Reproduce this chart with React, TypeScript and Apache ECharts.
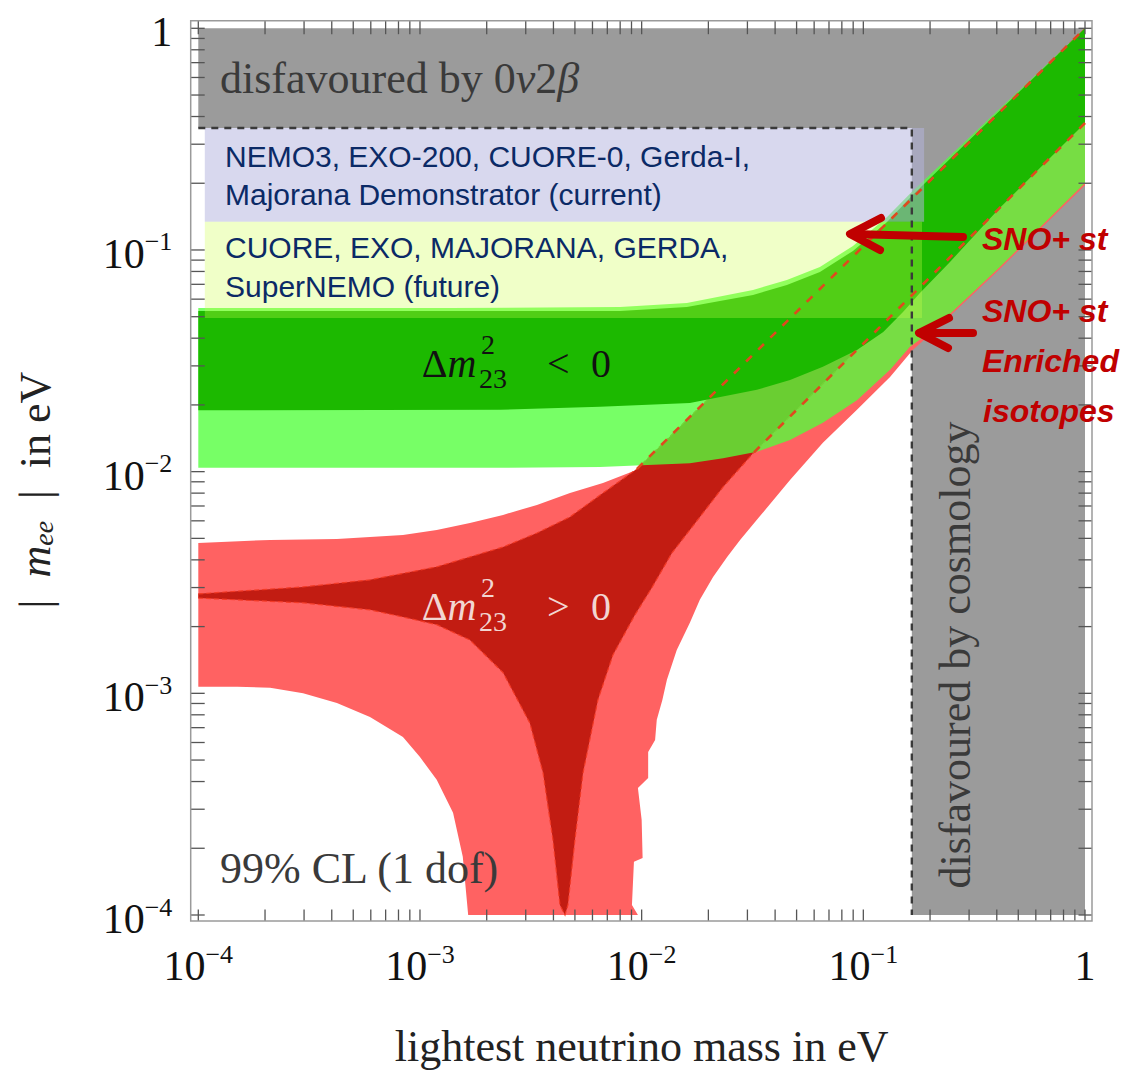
import React, { useEffect, useRef } from "react";
import * as echarts from "echarts";

// ---------------- data (all in eV) ----------------
const xRange = [1e-4, 1];
const yRange = [1e-4, 1];

const decadeStarts = [1e-4, 1e-3, 1e-2, 1e-1];
const tickMultipliers = [1, 2, 3, 4, 5, 6, 7, 8, 9];
const tickValues = [...decadeStarts.flatMap((d) => tickMultipliers.map((k) => k * d)), 1];

const doubleBetaLimit = 0.355; // |m_ee| bound (dashed horizontal)
const cosmologyLimit = 0.1655; // lightest mass bound (dashed vertical)

const currentExpX = [1.07e-4, 0.188];
const currentExpY = [0.134, 0.355];
const futureExpX = [1.07e-4, 0.184];
const futureExpY = [0.0493, 0.134];

// normal hierarchy, 99% CL band
const lightRedNH = [
  [1e-4, 0.00477], [2.11e-4, 0.00492], [4.22e-4, 0.00497], [8.38e-4, 0.00518], [1.19e-3, 0.00546],
  [1.68e-3, 0.00587], [2.37e-3, 0.00638], [3.37e-3, 0.00708], [4.75e-3, 0.00801], [6.69e-3, 0.00889],
  [9.53e-3, 0.0102], [1, 1],
  [1, 0.196], [0.413, 0.0821], [0.206, 0.0427], [0.167, 0.0354], [0.132, 0.0267], [0.0936, 0.019],
  [0.0657, 0.0135], [0.0467, 0.00917], [0.0331, 0.00606], [0.0278, 0.00492], [0.0243, 0.00412],
  [0.021, 0.00335], [0.0183, 0.00264], [0.0165, 0.00208], [0.0144, 0.00157], [0.013, 0.00115],
  [0.0124, 0.000934], [0.0117, 0.000759], [0.0115, 0.000616], [0.0107, 0.000544], [0.0107, 0.000415],
  [0.00962, 0.000374], [0.01, 0.000269], [0.0101, 0.000181], [0.00923, 0.000174], [0.00904, 0.000111],
  [0.00962, 1e-4],
  [1.65e-3, 1e-4], [1.56e-3, 0.000183], [1.41e-3, 0.000289], [1.19e-3, 0.000407], [1e-3, 0.000516],
  [8.38e-4, 0.000636], [5.95e-4, 0.000782], [4.22e-4, 0.000905], [2.97e-4, 0.001], [2.11e-4, 0.00106],
  [1.5e-4, 0.00107], [1e-4, 0.00107],
];

// normal hierarchy, best-fit band
const darkRedNH = [
  [1e-4, 0.00281], [2.97e-4, 0.00302], [5.95e-4, 0.00325], [1.19e-3, 0.00372], [2.37e-3, 0.00457],
  [3.37e-3, 0.00529], [4.75e-3, 0.00625], [6.69e-3, 0.00801], [9.53e-3, 0.0103], [1, 1],
  [1, 0.374], [0.0318, 0.0121], [0.0233, 0.00853], [0.0165, 0.00546], [0.0137, 0.0043],
  [0.0111, 0.00299], [0.00933, 0.00226], [0.00742, 0.00149], [0.00635, 0.000934], [0.00544, 0.000438],
  [0.005, 0.000218], [0.00465, 0.000111], [0.00451, 1e-4],
  [0.00428, 0.000111], [0.00398, 0.000218], [0.00359, 0.000438], [0.00313, 0.000735], [0.00237, 0.00124],
  [0.00168, 0.00174], [0.00119, 0.00204], [8.38e-4, 0.00221], [5.95e-4, 0.00238], [2.97e-4, 0.00256],
  [1.5e-4, 0.00264], [1e-4, 0.00269],
];
const darkRedUpperEdge = darkRedNH.slice(0, 10);
const darkRedLowerEdge = darkRedNH.slice(10);
const nhUpperLine = darkRedNH.slice(8, 10); // quasi-degenerate upper bound, dashed over the green
const nhLowerLine = darkRedNH.slice(10, 12); // quasi-degenerate lower bound, dashed over the green

// inverted hierarchy, 99% CL band
const lightGreenIH = [
  [1e-4, 0.0547], [1.37e-3, 0.0547], [7.99e-3, 0.0553], [0.016, 0.0577], [0.0318, 0.066], [0.0452, 0.0732],
  [0.0637, 0.0838], [0.0898, 0.1043], [0.128, 0.141], [0.167, 0.1845], [1, 1],
  [1, 0.2005], [0.413, 0.0838], [0.206, 0.0436], [0.162, 0.0365], [0.132, 0.0288], [0.0936, 0.021],
  [0.0657, 0.0166], [0.0467, 0.0139], [0.0331, 0.0123], [0.0233, 0.0115], [0.0165, 0.0109],
  [0.00648, 0.0105], [0.0023, 0.0104], [1e-4, 0.0104],
];

// inverted hierarchy, best-fit band
const darkGreenIH = [
  [1e-4, 0.0531], [7.99e-3, 0.0531], [0.016, 0.0553], [0.0318, 0.0627], [0.0452, 0.0695], [0.0637, 0.0796],
  [0.0898, 0.099], [0.128, 0.1337], [0.167, 0.177], [1, 1],
  [1, 0.374], [0.413, 0.155], [0.246, 0.0883], [0.18, 0.064], [0.151, 0.0525], [0.123, 0.0427],
  [0.0936, 0.0354], [0.0657, 0.0297], [0.0467, 0.0259], [0.0331, 0.0234], [0.0165, 0.0204],
  [0.00648, 0.0196], [0.0023, 0.019], [1e-4, 0.0189],
];

// ---------------- styles / layout ----------------
const SERIF = '"Liberation Serif", "Times New Roman", serif';
const SANS = '"Liberation Sans", Arial, sans-serif';
const GRID_LEFT = 198.3;
const GRID_TOP = 28.3;
const GRID_W = 886.7;
const GRID_H = 886.7;
const PAD_L = 7.6;
const PAD_T = 7.6;
const PAD_R = 7;
const PAD_B = 6;
const TICK_STYLE = { stroke: "#555", lineWidth: 1.3 };

const rectPts = (xr: number[], yr: number[]) => [
  [xr[0], yr[0]], [xr[1], yr[0]], [xr[1], yr[1]], [xr[0], yr[1]],
];

function polygonSeries(name: string, pts: number[][], style: any) {
  return {
    name,
    type: "custom",
    coordinateSystem: "cartesian2d",
    silent: true,
    clip: false,
    data: pts,
    encode: { x: 0, y: 1 },
    renderItem: (params: any, api: any) =>
      params.dataIndex === 0
        ? { type: "polygon", shape: { points: pts.map((p) => api.coord(p)) }, style }
        : null,
  };
}

function polylineSeries(name: string, pts: number[][], style: any) {
  return {
    name,
    type: "custom",
    coordinateSystem: "cartesian2d",
    silent: true,
    clip: false,
    data: pts,
    encode: { x: 0, y: 1 },
    renderItem: (params: any, api: any) =>
      params.dataIndex === 0
        ? { type: "polyline", shape: { points: pts.map((p) => api.coord(p)) }, style: { fill: null, ...style } }
        : null,
  };
}

const xTickSeries = {
  type: "custom",
  silent: true,
  clip: false,
  data: tickValues.map((v) => [v, yRange[1]]),
  encode: { x: 0, y: 1 },
  renderItem: (params: any, api: any) => {
    const v = tickValues[params.dataIndex];
    const b = api.coord([v, yRange[0]]);
    const t = api.coord([v, yRange[1]]);
    return {
      type: "group",
      children: [
        { type: "line", shape: { x1: b[0], y1: b[1] + PAD_B, x2: b[0], y2: b[1] + PAD_B - 11.5 }, style: TICK_STYLE },
        { type: "line", shape: { x1: t[0], y1: t[1] - PAD_T, x2: t[0], y2: t[1] - PAD_T + 13.5 }, style: TICK_STYLE },
      ],
    };
  },
};

const yTickSeries = {
  type: "custom",
  silent: true,
  clip: false,
  data: tickValues.map((v) => [xRange[0], v]),
  encode: { x: 0, y: 1 },
  renderItem: (params: any, api: any) => {
    const v = tickValues[params.dataIndex];
    const l = api.coord([xRange[0], v]);
    const r = api.coord([xRange[1], v]);
    return {
      type: "group",
      children: [
        { type: "line", shape: { x1: l[0] - PAD_L, y1: l[1], x2: l[0] - PAD_L + 14, y2: l[1] }, style: TICK_STYLE },
        { type: "line", shape: { x1: r[0] + PAD_R, y1: r[1], x2: r[0] + PAD_R - 13.5, y2: r[1] }, style: TICK_STYLE },
      ],
    };
  },
};

const labelFormatter = (val: number) => {
  const e = Math.round(Math.log10(val));
  return e === 0 ? "{b|1}" : `{b|10}{s|\u2212${-e}}`;
};
const labelRich = {
  b: { fontFamily: SERIF, fontSize: 42, lineHeight: 42, color: "#111", padding: [8, 0, 0, 0] },
  s: { fontFamily: SERIF, fontSize: 26, lineHeight: 26, color: "#111", verticalAlign: "top" },
};

const mid = (baseline: number, fs: number) => baseline - 0.3375 * fs;
const midSans = (baseline: number, fs: number) => baseline - 0.3465 * fs;

const txt = (x: number, y: number, text: string, style: any, extra: any = {}) => ({
  type: "text",
  x,
  y,
  z: 30,
  silent: true,
  style: { text, align: "left", verticalAlign: "middle", textAlign: "left", textVerticalAlign: "middle", ...style },
  ...extra,
});

function deltaLabel(baseline: number, rel: string, color: string) {
  const fs = 40;
  const small = 28;
  const base = { fontFamily: SERIF, fontSize: fs, fill: color };
  const sm = { fontFamily: SERIF, fontSize: small, fill: color };
  return [
    txt(421.7, mid(baseline, fs), "\u0394{i|m}", {
      ...base,
      rich: { i: { fontFamily: SERIF, fontStyle: "italic", fontSize: fs, fill: color } },
    }),
    txt(481, mid(baseline - 23, small), "2", sm),
    txt(479, mid(baseline + 11, small), "23", sm),
    txt(547, mid(baseline, fs), rel, base),
    txt(591, mid(baseline, fs), "0", base),
  ];
}

const navy = "#0b2a66";
const snoRed = "#c00000";
const sansNavy = { fontFamily: SANS, fontSize: 30, fill: navy };
const snoStyle = { fontFamily: SANS, fontSize: 32, fontWeight: "bold", fontStyle: "italic", fill: snoRed };
const serifGray = { fontFamily: SERIF, fontSize: 44, fill: "#3a3a3a" };

const arrowStyle = { stroke: snoRed, lineWidth: 8, lineCap: "round", lineJoin: "round", fill: null };
const nhThinEdgeStyle = { stroke: "#f23a26", lineWidth: 1.2, lineDash: [5, 3] };
const nhDashStyle = { stroke: "#e0481e", lineWidth: 2.6, lineDash: [8, 9] };

const graphicElements: any[] = [
  {
    type: "rect",
    z: 25,
    silent: true,
    shape: { x: GRID_LEFT - PAD_L, y: GRID_TOP - PAD_T, width: GRID_W + PAD_L + PAD_R, height: GRID_H + PAD_T + PAD_B },
    style: { fill: null, stroke: "#9a9a9a", lineWidth: 1.5 },
  },
  txt(220, mid(93, 44), "disfavoured by 0{i|\u03bd}2{i|\u03b2}", {
    ...serifGray,
    rich: { i: { fontFamily: SERIF, fontStyle: "italic", fontSize: 44, fill: "#3a3a3a" } },
  }),
  txt(220, mid(883, 44), "99% CL (1 dof)", serifGray),
  txt(225, midSans(167, 30), "NEMO3, EXO-200, CUORE-0, Gerda-I,", sansNavy),
  txt(225, midSans(205, 30), "Majorana Demonstrator (current)", sansNavy),
  txt(225, midSans(258, 30), "CUORE, EXO, MAJORANA, GERDA,", sansNavy),
  txt(225, midSans(297, 30), "SuperNEMO (future)", sansNavy),
  ...deltaLabel(376.7, "<", "#111"),
  ...deltaLabel(620, ">", "#f2d6d2"),
  txt(955, 655, "disfavoured by cosmology", { ...serifGray, align: "center", textAlign: "center" }, { rotation: Math.PI / 2 }),
  txt(982, midSans(250, 32), "SNO+ st", snoStyle),
  txt(982, midSans(321.7, 32), "SNO+ st", snoStyle),
  txt(982, midSans(371.7, 32), "Enriched", snoStyle),
  txt(983, midSans(421.7, 32), "isotopes", snoStyle),
  { type: "polyline", z: 28, silent: true, shape: { points: [[963, 237], [852, 234]] }, style: arrowStyle },
  { type: "polyline", z: 28, silent: true, shape: { points: [[881, 218], [850, 234], [880, 250]] }, style: arrowStyle },
  { type: "polyline", z: 28, silent: true, shape: { points: [[973, 333], [920, 333]] }, style: arrowStyle },
  { type: "polyline", z: 28, silent: true, shape: { points: [[949, 318], [919, 333], [948, 348]] }, style: arrowStyle },
  txt(641.6, mid(1061.7, 44), "lightest neutrino mass in eV", { fontFamily: SERIF, fontSize: 44, fill: "#222", align: "center", textAlign: "center" }),
  txt(
    35,
    490,
    "|  {i|m}{sub|ee}  |  in eV",
    {
      fontFamily: SERIF,
      fontSize: 44,
      lineHeight: 44,
      fill: "#222",
      align: "center",
      textAlign: "center",
      rich: {
        i: { fontFamily: SERIF, fontStyle: "italic", fontSize: 44, lineHeight: 44, fill: "#222" },
        sub: { fontFamily: SERIF, fontStyle: "italic", fontSize: 28, lineHeight: 28, fill: "#222", verticalAlign: "bottom" },
      },
    },
    { rotation: Math.PI / 2 }
  ),
];

const option: any = {
  animation: false,
  backgroundColor: "#ffffff",
  grid: { left: GRID_LEFT, top: GRID_TOP, width: GRID_W, height: GRID_H, containLabel: false, outerBoundsMode: "none" },
  xAxis: {
    type: "log",
    logBase: 10,
    min: xRange[0],
    max: xRange[1],
    axisLine: { show: false },
    axisTick: { show: false },
    minorTick: { show: false },
    splitLine: { show: false },
    axisLabel: { margin: 26, formatter: labelFormatter, rich: labelRich, fontFamily: SERIF, color: "#111" },
  },
  yAxis: {
    type: "log",
    logBase: 10,
    min: yRange[0],
    max: yRange[1],
    axisLine: { show: false },
    axisTick: { show: false },
    minorTick: { show: false },
    splitLine: { show: false },
    axisLabel: { margin: 26, formatter: labelFormatter, rich: labelRich, fontFamily: SERIF, color: "#111" },
  },
  series: [
    polygonSeries("0v2b excluded", rectPts(xRange, [doubleBetaLimit, yRange[1]]), { fill: "#9b9b9b" }),
    polygonSeries("cosmology excluded", rectPts([cosmologyLimit, xRange[1]], [yRange[0], doubleBetaLimit]), { fill: "#9b9b9b" }),
    polygonSeries("NH 99%", lightRedNH, { fill: "#ff6262" }),
    polygonSeries("NH best", darkRedNH, { fill: "#c21c12" }),
    polylineSeries("NH edge upper", darkRedUpperEdge, nhThinEdgeStyle),
    polylineSeries("NH edge lower", darkRedLowerEdge, nhThinEdgeStyle),
    polygonSeries("IH 99%", lightGreenIH, { fill: "rgba(82,255,60,0.786)" }),
    polygonSeries("IH best", darkGreenIH, { fill: "#1cb900" }),
    polygonSeries("current experiments", rectPts(currentExpX, currentExpY), { fill: "rgba(180,180,222,0.52)" }),
    polygonSeries("future experiments", rectPts(futureExpX, futureExpY), { fill: "rgba(205,255,72,0.3)" }),
    polylineSeries("NH upper bound", nhUpperLine, nhDashStyle),
    polylineSeries("NH lower bound", nhLowerLine, nhDashStyle),
    polylineSeries(
      "limits",
      [[xRange[0], doubleBetaLimit], [cosmologyLimit, doubleBetaLimit], [cosmologyLimit, yRange[0]]],
      { stroke: "#3a3a3a", lineWidth: 2.4, lineDash: [7, 6] }
    ),
    xTickSeries,
    yTickSeries,
  ],
  graphic: { elements: graphicElements },
};

export default function App() {
  const ref = useRef<HTMLDivElement>(null);
  useEffect(() => {
    const chart = echarts.init(ref.current as HTMLDivElement, null, { renderer: "svg" });
    chart.setOption(option);
    return () => chart.dispose();
  }, []);
  return (
    <div
      ref={ref}
      style={{ position: "absolute", left: 0, top: 0, width: 1121, height: 1074, background: "#fff" }}
    />
  );
}
